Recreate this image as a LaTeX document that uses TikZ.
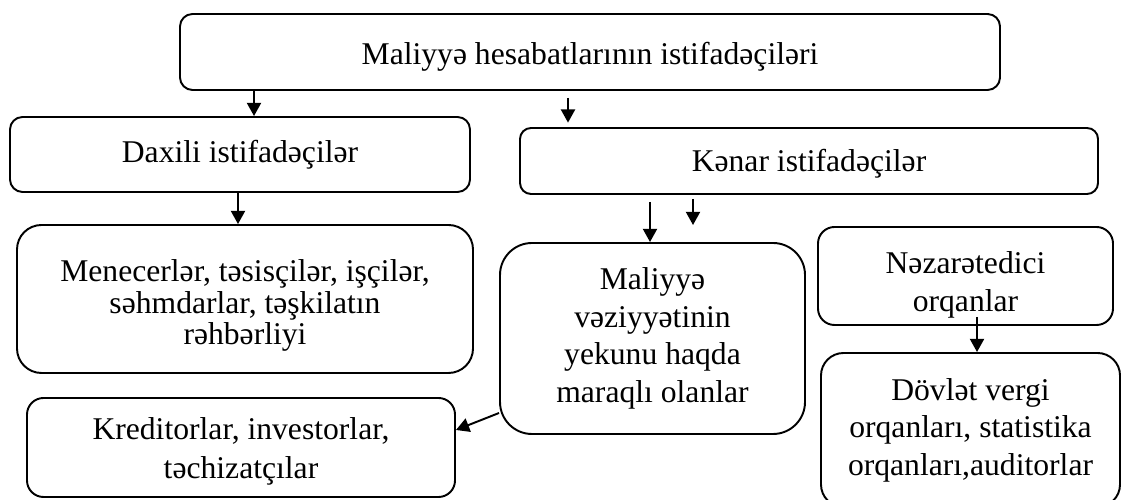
\documentclass[tikz,border=0pt]{standalone}
\usepackage{fontspec}
\setmainfont{Liberation Serif}
\usepackage{tikz}
\usetikzlibrary{arrows.meta}

\begin{document}
\begin{tikzpicture}[
    box/.style={draw,line width=1.1pt,align=center,inner sep=2pt,font=\fontsize{18}{21.3}\selectfont},
    arr/.style={-{Triangle[width=8pt,length=7.5pt]},line width=1.1pt}
  ]
    \useasboundingbox (0,0) rectangle (22.5,10);
    % boxes
    \node[box,minimum width=16.4cm,minimum height=1.52cm,rounded corners=0.25cm,text height=18.7pt,text depth=3.9pt] (top) at (11.8,8.96) {Maliyyə hesabatlarının istifadəçiləri};
    \node[box,minimum width=9.2cm,minimum height=1.5cm,rounded corners=0.25cm] (daxili) at (4.8,6.91) {Daxili istifadəçilər};
    \node[box,minimum width=11.56cm,minimum height=1.32cm,rounded corners=0.22cm,text height=15.8pt,text depth=3.6pt] (kenar) at (16.18,6.78) {Kənar istifadəçilər};
    \node[box,minimum width=9.12cm,minimum height=2.96cm,rounded corners=0.49cm,font=\fontsize{18}{18}\selectfont,text height=56.1pt,text depth=3.9pt] (menecer) at (4.9,4.02) {Menecerlər, təsisçilər, işçilər,\\səhmdarlar, təşkilatın\\rəhbərliyi};
    \node[box,minimum width=6.1cm,minimum height=3.82cm,rounded corners=0.64cm] (maliyye) at (13.05,3.23) {Maliyyə\\vəziyyətinin\\yekunu haqda\\maraqlı olanlar};
    \node[box,minimum width=5.9cm,minimum height=1.96cm,rounded corners=0.33cm,font=\fontsize{18}{22}\selectfont,text height=44.7pt,text depth=3.9pt,inner ysep=1pt] (nezaret) at (19.31,4.48) {Nəzarətedici\\orqanlar};
    \node[box,minimum width=5.98cm,minimum height=3.08cm,rounded corners=0.45cm] (dovlet) at (19.41,1.4) {Dövlət vergi\\orqanları, statistika\\orqanları,auditorlar};
    \node[box,minimum width=8.56cm,minimum height=1.98cm,rounded corners=0.33cm,font=\fontsize{18}{22.5}\selectfont,text height=39.7pt,text depth=3.9pt] (kreditor) at (4.82,1.05) {Kreditorlar, investorlar,\\təchizatçılar};

    % arrows
    \coordinate (a2) at (11.36,8.04);
    \coordinate (a4) at (13.0,5.96);
    \coordinate (a5) at (13.86,5.5);
    \coordinate (a6) at (19.54,3.66);
    \draw[arr] (top.south -| 5.08,0) -- (daxili.north -| 5.08,0);
    \draw[arr,shorten >=2.5pt] (a2) -- (kenar.north -| a2);
    \draw[arr] (daxili.south -| 4.76,0) -- (menecer.north -| 4.76,0);
    \draw[arr] (a4) -- (maliyye.north -| a4);
    \draw[arr,shorten <=2.3pt] (kenar.south -| a5) -- (a5);
    \draw[arr] (a6) -- (dovlet.north -| a6);
    \draw[arr] (maliyye.west |- 0,1.74) -- (kreditor.east |- 0,1.4);
\end{tikzpicture}
\end{document}
